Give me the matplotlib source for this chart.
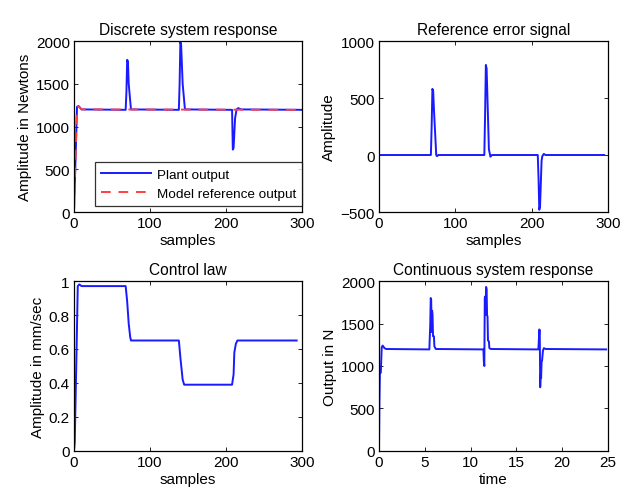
import numpy as np
import matplotlib
matplotlib.use('Agg')
import matplotlib.pyplot as plt

plt.rcParams['font.family'] = ['Liberation Sans', 'DejaVu Sans']
plt.rcParams['font.size'] = 11

# discrete plant output (samples, Newtons)
plant_n = [0, 2, 4, 6, 10, 68, 69, 70, 71, 72, 75, 138, 139, 140, 141, 143, 146,
           208, 209, 210, 212, 214, 216, 220, 300]
plant_y = [0, 600, 1230, 1240, 1200, 1195, 1400, 1780, 1760, 1500, 1200, 1195, 1500, 1990, 1950, 1500, 1200,
           1195, 730, 750, 1100, 1200, 1215, 1200, 1195]

# model reference output
ref_n = [0, 2, 4, 6, 10, 300]
ref_y = [0, 620, 1220, 1235, 1200, 1195]

# reference error signal
err_n = [0, 68, 69, 70, 71, 72, 75, 76, 78, 138, 139, 140, 141, 144, 146, 148,
         208, 209, 210, 211, 213, 214, 216, 218, 295]
err_y = [0, 0, 250, 580, 560, 400, 0, -10, 0, 0, 350, 790, 760, 50, -15, 0,
         0, -200, -480, -450, -50, -10, 10, 0, 0]

# control law (mm/sec)
u_n = [0, 1, 3, 5, 7, 10, 68, 70, 72, 74, 75, 138, 140, 143, 145, 208, 210, 211, 213, 215, 293]
u_y = [0, 0.05, 0.5, 0.97, 0.98, 0.97, 0.97, 0.88, 0.75, 0.67, 0.65, 0.65, 0.55, 0.42, 0.39,
       0.39, 0.45, 0.58, 0.63, 0.65, 0.65]

# continuous system response (time, N)
ct_t = [0, 0.05, 0.1, 0.2, 0.3, 0.4, 0.6, 0.8,
        5.5, 5.6, 5.65, 5.7, 5.75, 5.8, 5.85, 5.9, 6.0, 6.05, 6.2,
        11.4, 11.45, 11.5, 11.55, 11.6, 11.65, 11.7, 11.75, 11.8, 11.85, 11.9, 12.0, 12.05, 12.2,
        17.4, 17.45, 17.5, 17.55, 17.6, 17.65, 17.7, 17.75, 17.8, 17.9, 18.0, 18.2, 24.8]
ct_y = [0, 600, 920, 920, 1220, 1240, 1210, 1200,
        1195, 1500, 1800, 1780, 1400, 1650, 1600, 1350, 1350, 1230, 1200,
        1195, 1050, 1000, 1800, 1820, 1600, 1930, 1900, 1600, 1580, 1300, 1290, 1210, 1200,
        1195, 1300, 1430, 1420, 750, 900, 860, 1050, 1060, 1180, 1210, 1200, 1195]

fig = plt.figure(figsize=(6.29, 4.89), dpi=100)
ax1 = fig.add_axes([0.1176, 0.5644, 0.3625, 0.3497])
ax2 = fig.add_axes([0.6025, 0.5644, 0.3641, 0.3497])
ax3 = fig.add_axes([0.1176, 0.0757, 0.3625, 0.3476])
ax4 = fig.add_axes([0.6025, 0.0757, 0.3641, 0.3476])

blue = '#1a1aff'
ax1.plot(plant_n, plant_y, color=blue, lw=1.4, label='Plant output')
ax1.plot(ref_n, ref_y, color='#ff4040', lw=1.4, ls=(0, (5, 4)), label='Model reference output')
ax1.set_xlim(0, 300)
ax1.set_ylim(0, 2000)
ax1.set_xticks([0, 100, 200, 300])
ax1.set_yticks([0, 500, 1000, 1500, 2000])
ax1.set_title('Discrete system response', fontsize=11.2, pad=5)
ax1.set_xlabel('samples', labelpad=2)
ax1.set_ylabel('Amplitude in Newtons', labelpad=3)
leg = ax1.legend(loc='lower right', bbox_to_anchor=(1.0, 0.035), borderaxespad=0, fancybox=False,
                 edgecolor='black', fontsize=9.7, handlelength=3.7, handletextpad=0.4,
                 borderpad=0.45, labelspacing=0.5)
leg.get_frame().set_linewidth(0.9)

ax2.plot(err_n, err_y, color=blue, lw=1.4)
ax2.set_xlim(0, 300)
ax2.set_ylim(-500, 1000)
ax2.set_xticks([0, 100, 200, 300])
ax2.set_yticks([-500, 0, 500, 1000])
ax2.set_title('Reference error signal', fontsize=11.2, pad=5)
ax2.set_xlabel('samples', labelpad=2)
ax2.set_ylabel('Amplitude', labelpad=3)

ax3.plot(u_n, u_y, color=blue, lw=1.4)
ax3.set_xlim(0, 300)
ax3.set_ylim(0, 1)
ax3.set_xticks([0, 100, 200, 300])
ax3.set_yticks([0, 0.2, 0.4, 0.6, 0.8, 1])
ax3.set_yticklabels(['0', '0.2', '0.4', '0.6', '0.8', '1'])
ax3.set_title('Control law', fontsize=11.2, pad=5)
ax3.set_xlabel('samples', labelpad=2)
ax3.set_ylabel('Amplitude in mm/sec', labelpad=3)

ax4.plot(ct_t, ct_y, color=blue, lw=1.4)
ax4.set_xlim(0, 25)
ax4.set_ylim(0, 2000)
ax4.set_xticks([0, 5, 10, 15, 20, 25])
ax4.set_yticks([0, 500, 1000, 1500, 2000])
ax4.set_title('Continuous system response', fontsize=11.2, pad=5)
ax4.set_xlabel('time', labelpad=2)
ax4.set_ylabel('Output in N', labelpad=3)

for ax in (ax1, ax2, ax3, ax4):
    ax.tick_params(direction='in', top=True, right=True, length=3, width=0.6, pad=3, labelsize=11)
    for s in ax.spines.values():
        s.set_linewidth(0.9)

fig.savefig('out.png', dpi=100)
